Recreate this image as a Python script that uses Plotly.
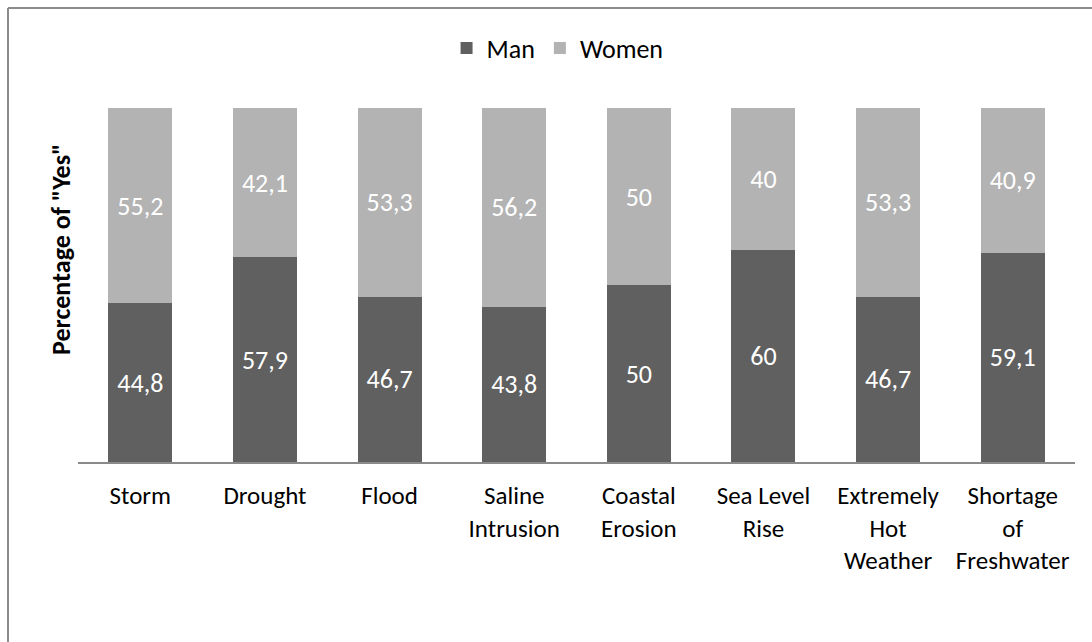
import plotly.graph_objects as go

categories = ["Storm", "Drought", "Flood", "Saline<br>Intrusion", "Coastal<br>Erosion",
              "Sea Level<br>Rise", "Extremely<br>Hot<br>Weather", "Shortage<br>of<br>Freshwater"]
man = [44.8, 57.9, 46.7, 43.8, 50, 60, 46.7, 59.1]
women = [55.2, 42.1, 53.3, 56.2, 50, 40, 53.3, 40.9]

FONT = "Calibri, Carlito, Lato, sans-serif"


def fmt(v):
    return f"{v:g}".replace(".", ",")


fig = go.Figure()
fig.add_trace(go.Bar(
    name="Man", x=categories, y=man, marker=dict(color="#606060", line=dict(width=0)),
    text=[fmt(v) for v in man], textposition="inside", insidetextanchor="middle",
    textfont=dict(color="white", size=26, family=FONT), hoverinfo="skip",
))
fig.add_trace(go.Bar(
    name="Women", x=categories, y=women, marker=dict(color="#b3b3b3", line=dict(width=0)),
    text=[fmt(v) for v in women], textposition="inside", insidetextanchor="middle",
    textfont=dict(color="white", size=26, family=FONT), hoverinfo="skip",
))

fig.update_layout(
    width=1092, height=642,
    margin=dict(l=78, r=17, t=108, b=180),
    barmode="stack", bargap=0.486,
    plot_bgcolor="white", paper_bgcolor="white",
    font=dict(family=FONT, size=25, color="black"),
    uniformtext=dict(mode=False),
    legend=dict(orientation="h", x=0.481, xanchor="center", y=1.169, yanchor="middle",
                font=dict(size=26, family=FONT), itemsizing="constant", traceorder="normal"),
    xaxis=dict(showline=True, linecolor="#8a8a8a", linewidth=2, ticks="",
               showgrid=False, tickfont=dict(size=25, family=FONT, color="black"),
               tickangle=0, ticklabelstandoff=10),
    yaxis=dict(range=[0, 100], showticklabels=False, showgrid=False, zeroline=False,
               showline=False, ticks=""),
    annotations=[dict(
        text='<b>Percentage of "Yes"</b>', textangle=-90, showarrow=False,
        xref="paper", yref="paper", x=(61 - 78) / 997, y=(462 - 250) / 354,
        xanchor="center", yanchor="middle", font=dict(size=26, family=FONT, color="black"),
    )],
    shapes=[
        dict(type="line", xref="paper", yref="paper", x0=(8 - 78) / 997, x1=1.1,
             y0=(462 - 8) / 354, y1=(462 - 8) / 354, line=dict(color="#8c8c8c", width=2)),
        dict(type="line", xref="paper", yref="paper", x0=(8 - 78) / 997, x1=(8 - 78) / 997,
             y0=(462 - 8) / 354, y1=-0.6, line=dict(color="#8c8c8c", width=2)),
    ],
)

fig.write_html("out.html")
